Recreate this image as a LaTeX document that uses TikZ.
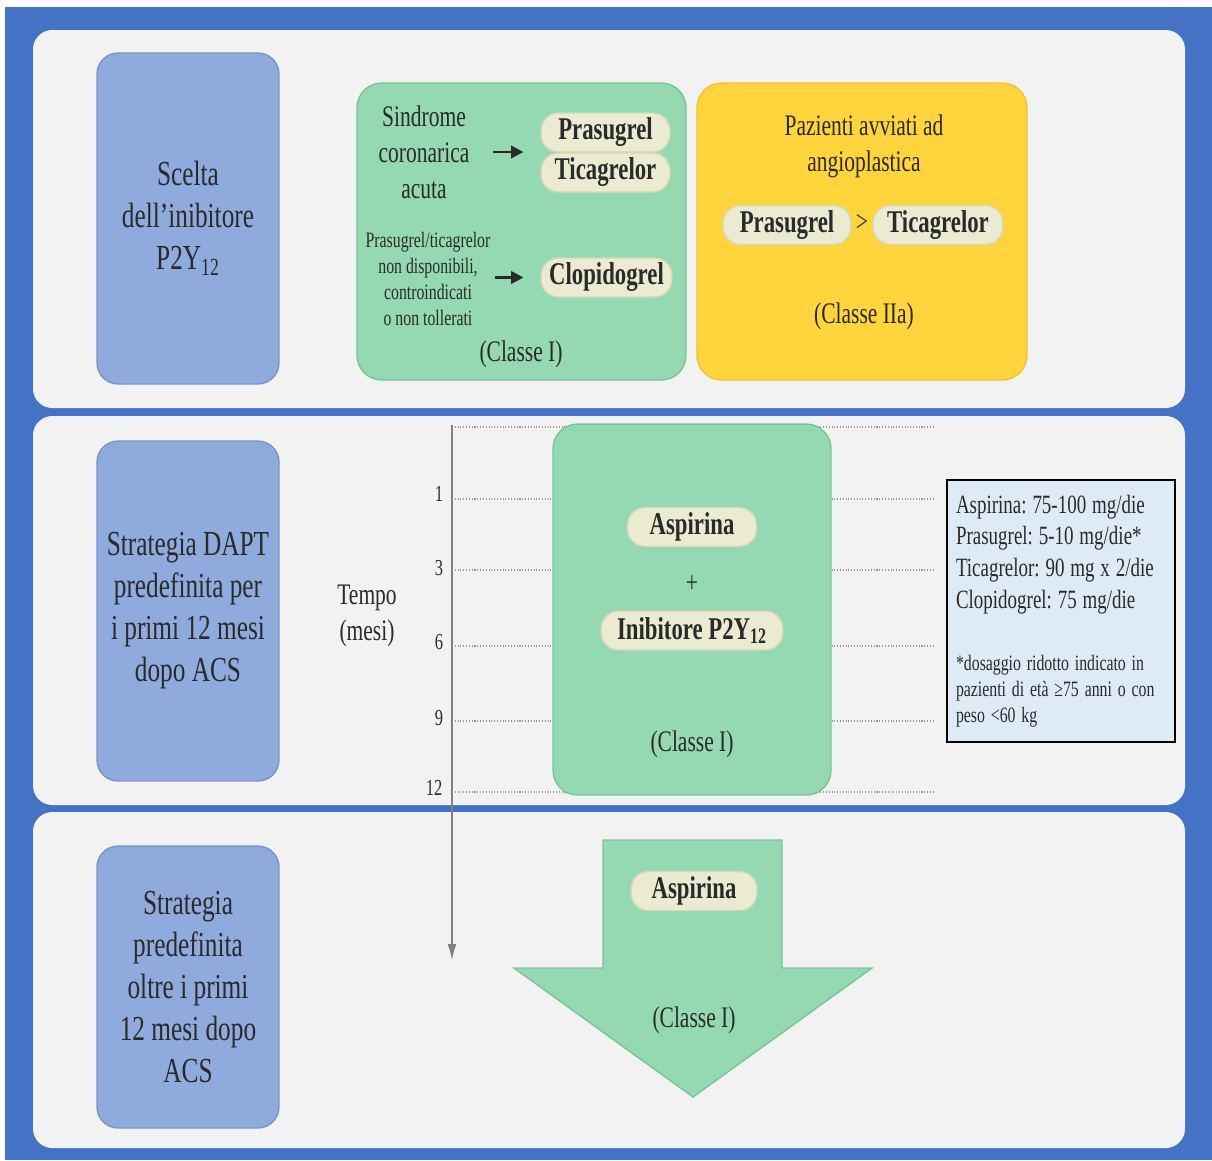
\documentclass[tikz,border=0pt]{standalone}
\usepackage{fontspec}
\setmainfont{Liberation Serif}[FakeStretch=0.72]
\usetikzlibrary{arrows.meta}

\definecolor{framebl}{HTML}{4472C4}
\definecolor{panelgr}{HTML}{F2F2F2}
\definecolor{sidefill}{HTML}{8FAADC}
\definecolor{sideline}{HTML}{7C95C9}
\definecolor{greenfill}{HTML}{94D9B1}
\definecolor{greenline}{HTML}{79C597}
\definecolor{yellowfill}{HTML}{FFD43C}
\definecolor{yellowline}{HTML}{EFC235}
\definecolor{pillfill}{HTML}{EAEBD0}
\definecolor{pillline}{HTML}{D6D8B6}
\definecolor{dosefill}{HTML}{DEEBF7}
\definecolor{ink}{HTML}{2A2A2A}

\tikzset{
  panel/.style={fill=panelgr, rounded corners=11pt},
  sidebox/.style={draw=sideline, fill=sidefill, line width=0.8pt, rounded corners=12pt,
    minimum width=3.64cm, align=center, text=ink, font=\fontsize{20}{23.9}\selectfont},
  classbox/.style={line width=0.8pt, rounded corners=14pt},
  pill/.style={draw=pillline, fill=pillfill, line width=0.8pt, rounded corners=10pt,
    minimum height=0.78cm, inner sep=0pt, text=ink, font=\bfseries\fontsize{18}{20}\selectfont},
  lbl/.style={align=center, text=ink, font=\fontsize{17}{20.4}\selectfont},
  smalllbl/.style={align=center, text=ink, font=\fontsize{12.5}{14.7}\selectfont},
  ticklbl/.style={text=ink, font=\fontsize{13}{15}\selectfont},
  gridline/.style={gray!80, densely dotted, line width=0.6pt},
  arr/.style={-{Triangle[length=7pt,width=7pt]}, line width=1.6pt, ink}
}

\begin{document}
\frenchspacing
\begin{tikzpicture}[x=0.02cm,y=-0.02cm]

\def\axisx{452}
\def\gridend{935}

\useasboundingbox (0,0) rectangle (1212,1160);

% Frame and panels
\fill[white] (0,0) rectangle (1212,1160);
\fill[framebl] (5,7) rectangle (1212,1160);
\fill[panel] (33,30) rectangle (1185,408);
\fill[panel] (33,416) rectangle (1185,805);
\fill[panel] (33,812) rectangle (1185,1148);

% Row titles
\node[sidebox, minimum height=6.62cm] (choice) at (188,218.5)
  {Scelta\\dell'inibitore\\P2Y\textsubscript{12}};
\node[sidebox, minimum height=6.80cm] (dapt) at (188,611)
  {Strategia DAPT\\predefinita per\\i primi 12 mesi\\dopo ACS};
\node[sidebox, minimum height=5.64cm] (later) at (188,987)
  {Strategia\\predefinita\\oltre i primi\\12 mesi dopo\\ACS};

% Choice of the inhibitor: ACS
\node[classbox, draw=greenline, fill=greenfill, minimum width=6.58cm, minimum height=5.94cm]
  (acsbox) at (521.5,231.5) {};
\node[lbl] (acs) at (424,152) {Sindrome\\coronarica\\acuta};
\node[pill, minimum width=2.58cm] (pra1) at (605.5,132.5) {Prasugrel};
\node[pill, minimum width=2.58cm] (tic1) at (605.5,172.5) {Ticagrelor};
\node[smalllbl] (alt) at (428,279)
  {Prasugrel/ticagrelor\\non disponibili,\\controindicati\\o non tollerati};
\node[pill, minimum width=2.62cm] (clo) at (606.5,277.5) {Clopidogrel};
\node[lbl] (cls1) at (521,354) {(Classe I)};

\draw[arr, shorten <=10pt, shorten >=9.6pt] (acs.east) -- (acs.east -| pra1.west);
\draw[arr, shorten <=-1pt, shorten >=9.6pt] (alt.east |- clo.west) -- (clo.west);

% Choice of the inhibitor: PCI
\node[classbox, draw=yellowline, fill=yellowfill, minimum width=6.6cm, minimum height=5.94cm]
  (pcibox) at (862,231.5) {};
\node[lbl] (pci) at (864,146) {Pazienti avviati ad\\angioplastica};
\node[pill, minimum width=2.56cm] (pra2) at (787,225) {Prasugrel};
\node[lbl] (gt) at (862,223) {>};
\node[pill, minimum width=2.6cm] (tic2) at (938,225) {Ticagrelor};
\node[lbl] (cls2) at (864,316) {(Classe IIa)};

% Time grid
\foreach \yy in {427,499,570,646,721,792}
  \draw[gridline] (\axisx,\yy) -- (\gridend,\yy);
\node[ticklbl] (m1) at (439,494) {1};
\node[ticklbl] (m3) at (439,568) {3};
\node[ticklbl] (m6) at (439,642) {6};
\node[ticklbl] (m9) at (439,718) {9};
\node[ticklbl] (m12) at (434,788) {12};
\node[lbl] (tempo) at (367,616) {Tempo\\(mesi)};

% DAPT first year
\node[classbox, draw=greenline, fill=greenfill, minimum width=5.56cm, minimum height=7.42cm]
  (daptbox) at (692,609.5) {};
\node[pill, minimum width=2.58cm] (asp1) at (692,527) {Aspirina};
\node[lbl] (plus) at (692,584) {+};
\node[pill, minimum width=3.64cm] (inib) at (692,630.5) {Inibitore P2Y\textsubscript{12}};
\node[lbl] (cls3) at (692,744) {(Classe I)};

% Doses
\node[draw=black, fill=dosefill, line width=0.8pt, minimum width=4.56cm, minimum height=5.24cm,
  text width=4.2cm, align=left, text=ink, inner sep=0pt] (dose) at (1061,611)
  {\fontsize{15}{18}\selectfont Aspirina: 75-100 mg/die\\
   Prasugrel: 5-10 mg/die*\\
   Ticagrelor: 90 mg x 2/die\\
   Clopidogrel: 75 mg/die\par
   \vspace{21pt}
   \fontsize{12.5}{14.7}\selectfont *dosaggio ridotto indicato in\\
   pazienti di età ≥75 anni o con\\
   peso <60 kg\par};

% Beyond the first year
\draw[draw=greenline, fill=greenfill, line width=0.8pt]
  (603,840) -- (782,840) -- (782,968) -- (872,968) -- (693,1097)
  -- (514,968) -- (603,968) -- cycle;
\node[pill, minimum width=2.52cm] (asp2) at (694,891) {Aspirina};
\node[lbl] (cls4) at (694,1020) {(Classe I)};

% Time axis
\coordinate (tstart) at (\axisx,425);
\coordinate (tend) at (\axisx,960);
\draw[gray, line width=0.8pt, -{Latex[length=9pt,width=5pt]}] (tstart) -- (tend);

\end{tikzpicture}
\end{document}
